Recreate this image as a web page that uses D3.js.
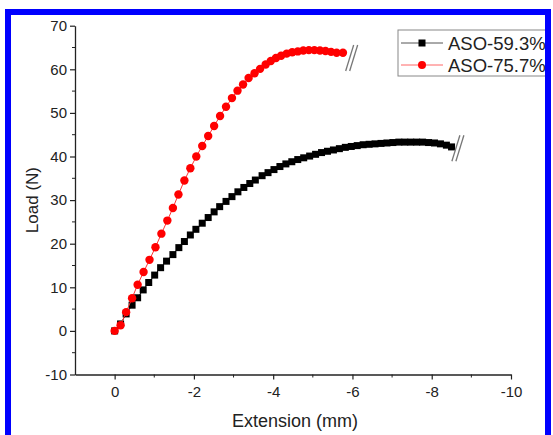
<!DOCTYPE html>
<html>
<head>
<meta charset="utf-8">
<script src="https://cdn.jsdelivr.net/npm/d3@7"></script>
<style>
  html, body { margin: 0; padding: 0; background: #fff; }
  svg { display: block; font-family: "Liberation Sans", Arial, sans-serif; }
</style>
</head>
<body>
<svg id="chart" width="553" height="435"></svg>
<script>
// Load–extension curves for two ASO contents
const seriesNames = ["ASO-59.3%", "ASO-75.7%"];

const ext593 = [0, -0.15, -0.29, -0.44, -0.58, -0.72, -0.86, -1.01, -1.16, -1.31,
  -1.47, -1.62, -1.76, -1.91, -2.05, -2.21, -2.36, -2.51, -2.65, -2.81,
  -2.96, -3.11, -3.26, -3.41, -3.55, -3.72, -3.87, -4.02, -4.17, -4.32,
  -4.47, -4.62, -4.77, -4.92, -5.07, -5.22, -5.37, -5.52, -5.67, -5.82,
  -5.97, -6.12, -6.27, -6.42, -6.57, -6.72, -6.87, -7.02, -7.17, -7.32,
  -7.47, -7.62, -7.77, -7.92, -8.07, -8.22, -8.37, -8.50];
const load593 = [0, 1.6, 3.9, 5.9, 7.6, 9.4, 11.1, 12.8, 14.5, 16.0,
  17.5, 19.1, 20.5, 22.0, 23.3, 24.7, 26.0, 27.3, 28.5, 29.7,
  30.8, 31.9, 32.9, 33.8, 34.6, 35.6, 36.3, 37.0, 37.7, 38.3,
  38.8, 39.3, 39.7, 40.1, 40.5, 40.9, 41.2, 41.5, 41.8, 42.1,
  42.3, 42.5, 42.7, 42.8, 42.9, 43.0, 43.1, 43.2, 43.3, 43.3,
  43.3, 43.3, 43.3, 43.2, 43.1, 42.9, 42.6, 42.2];

const ext757 = [0, -0.15, -0.29, -0.44, -0.58, -0.73, -0.88, -1.03, -1.18, -1.33,
  -1.47, -1.61, -1.76, -1.91, -2.06, -2.21, -2.36, -2.51, -2.66, -2.81,
  -2.96, -3.10, -3.24, -3.38, -3.53, -3.67, -3.81, -3.94, -4.07, -4.20,
  -4.34, -4.48, -4.62, -4.76, -4.90, -5.04, -5.18, -5.32, -5.46, -5.60, -5.76];
const load757 = [0, 1.3, 4.3, 7.5, 10.6, 13.5, 16.3, 19.2, 22.3, 25.3,
  28.2, 31.3, 34.5, 37.3, 40.0, 42.4, 44.7, 47.0, 49.3, 51.4,
  53.4, 55.1, 56.5, 58.0, 59.1, 60.1, 61.1, 61.9, 62.6, 63.1,
  63.6, 63.9, 64.1, 64.3, 64.4, 64.4, 64.3, 64.2, 64.0, 63.8, 63.8];

// Axis-break marks drawn just past the end of each curve: [extension, load]
const break593 = [-8.66, 41.9];
const break757 = [-5.98, 62.6];

const xTicks = [0, -2, -4, -6, -8, -10];
const yTicks = [-10, 0, 10, 20, 30, 40, 50, 60, 70];

const svg = d3.select("#chart");
const x = d3.scaleLinear().domain([1, -10]).range([75, 511]);
const y = d3.scaleLinear().domain([-10, 70]).range([374.5, 25.7]);
const axisColor = "#222";

// minor ticks
const xMinor = d3.range(-9, 1, 2);
const yMinor = d3.range(-5, 70, 10);

const gx = svg.append("g").attr("transform", `translate(0,${y(-10)})`);
gx.call(d3.axisBottom(x).tickValues(xTicks).tickFormat(d3.format("d")).tickSize(5).tickSizeOuter(0))
  .call(g => g.select(".domain").attr("stroke", axisColor).attr("stroke-width", 1.3))
  .call(g => g.selectAll(".tick line").attr("stroke", axisColor).attr("stroke-width", 1.2))
  .call(g => g.selectAll(".tick text").attr("fill", axisColor).attr("font-size", 15)
    .attr("font-family", "Liberation Sans, Arial, sans-serif").attr("dy", "0.95em")
    .text(d => d === 0 ? "0" : "-" + Math.abs(d)));
gx.selectAll(".minor").data(xMinor).join("line")
  .attr("x1", d => x(d)).attr("x2", d => x(d)).attr("y1", 0).attr("y2", 3)
  .attr("stroke", axisColor).attr("stroke-width", 1);

const gy = svg.append("g").attr("transform", `translate(${x(1)},0)`);
gy.call(d3.axisLeft(y).tickValues(yTicks).tickFormat(d => d < 0 ? "-" + Math.abs(d) : String(d)).tickSize(5).tickSizeOuter(0))
  .call(g => g.select(".domain").attr("stroke", axisColor).attr("stroke-width", 1.3))
  .call(g => g.selectAll(".tick line").attr("stroke", axisColor).attr("stroke-width", 1.2))
  .call(g => g.selectAll(".tick text").attr("fill", axisColor).attr("font-size", 15)
    .attr("font-family", "Liberation Sans, Arial, sans-serif").attr("x", -8));
gy.selectAll(".minor").data(yMinor).join("line")
  .attr("x1", -3).attr("x2", 0).attr("y1", d => y(d)).attr("y2", d => y(d))
  .attr("stroke", axisColor).attr("stroke-width", 1);

// axis titles
svg.append("text").attr("x", 295).attr("y", 427).attr("text-anchor", "middle")
  .attr("font-size", 18).attr("fill", axisColor).text("Extension (mm)");
svg.append("text").attr("transform", `translate(38,${(y(-10) + y(70)) / 2}) rotate(-90)`)
  .attr("text-anchor", "middle").attr("font-size", 17).attr("fill", axisColor).text("Load (N)");

const line = d3.line().x(d => x(d[0])).y(d => y(d[1]));
const black = ext593.map((e, i) => [e, load593[i]]);
const red = ext757.map((e, i) => [e, load757[i]]);

// ASO-59.3%: black squares
svg.append("path").datum(black).attr("d", line).attr("fill", "none")
  .attr("stroke", "#000").attr("stroke-width", 1);
svg.append("g").selectAll("rect").data(black).join("rect")
  .attr("x", d => x(d[0]) - 3.5).attr("y", d => y(d[1]) - 3.5)
  .attr("width", 7).attr("height", 7).attr("fill", "#000");

// ASO-75.7%: red circles
svg.append("path").datum(red).attr("d", line).attr("fill", "none")
  .attr("stroke", "#f33").attr("stroke-width", 1);
svg.append("g").selectAll("circle").data(red).join("circle")
  .attr("cx", d => x(d[0])).attr("cy", d => y(d[1])).attr("r", 4.2)
  .attr("fill", "#f00");

// break marks "//"
function breakMark(p) {
  const cx = x(p[0]), cy = y(p[1]);
  [-2, 2].forEach(off => {
    svg.append("line")
      .attr("x1", cx + off - 4).attr("y1", cy + 13)
      .attr("x2", cx + off + 4).attr("y2", cy - 13)
      .attr("stroke", "#777").attr("stroke-width", 1.3);
  });
}
breakMark(break593);
breakMark(break757);

// legend
const lg = svg.append("g");
lg.append("rect").attr("x", 398).attr("y", 30).attr("width", 152).attr("height", 46)
  .attr("fill", "#fff").attr("stroke", "#888").attr("stroke-width", 1);
const legendRows = [
  { name: seriesNames[0], color: "#000", line: "#555", shape: "square", yy: 43 },
  { name: seriesNames[1], color: "#f00", line: "#f66", shape: "circle", yy: 65 }
];
legendRows.forEach(r => {
  lg.append("line").attr("x1", 401).attr("x2", 443).attr("y1", r.yy).attr("y2", r.yy)
    .attr("stroke", r.line).attr("stroke-width", 1);
  if (r.shape === "square") {
    lg.append("rect").attr("x", 422 - 3.5).attr("y", r.yy - 3.5).attr("width", 7).attr("height", 7).attr("fill", r.color);
  } else {
    lg.append("circle").attr("cx", 422).attr("cy", r.yy).attr("r", 4).attr("fill", r.color);
  }
  lg.append("text").attr("x", 448).attr("y", r.yy + 6.5).attr("font-size", 18.5)
    .attr("fill", axisColor).text(r.name);
});

// blue frame
svg.append("rect").attr("x", 8).attr("y", 12).attr("width", 540).attr("height", 440)
  .attr("fill", "none").attr("stroke", "#0000ff").attr("stroke-width", 6);
</script>
</body>
</html>
